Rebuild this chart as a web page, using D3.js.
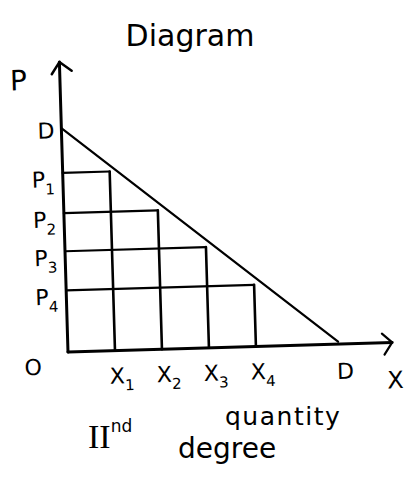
<!DOCTYPE html>
<html>
<head>
<meta charset="utf-8">
<script src="https://cdn.jsdelivr.net/npm/d3@7"></script>
<style>
  html, body { margin: 0; padding: 0; background: #fff; }
  svg { display: block; }
  text { font-family: "DejaVu Sans", sans-serif; fill: #000; }
</style>
</head>
<body>
<svg id="chart" width="413" height="483"></svg>
<script>
// Quantities demanded at each price step, and the demand intercepts
const quantityLabels = ["1", "2", "3", "4"];
const quantities = [1, 2, 3, 4];
const priceLabels = ["1", "2", "3", "4"];
const prices = [8.0, 6.2, 4.5, 2.75];
const demandIntercepts = { price: 10, quantity: 5.75 };
const axisMax = { quantity: 6.9, price: 12.95 };

const svg = d3.select("#chart");
const origin = { x: 68, y: 352 };

// Price / quantity scales (offsets from the origin)
const x = d3.scaleLinear().domain([0, 6]).range([0, 282]);
const y = d3.scaleLinear().domain([0, 10]).range([0, -224]);

// Slightly tilted frame, as sketched by hand
const frame = svg.append("g")
  .attr("transform", `translate(${origin.x},${origin.y}) rotate(-1.7)`);

const ink = "#000";

// Axes
frame.append("line")
  .attr("x1", x(0)).attr("y1", y(0))
  .attr("x2", x(0)).attr("y2", y(axisMax.price))
  .attr("stroke", ink).attr("stroke-width", 3).attr("stroke-linecap", "round");
frame.append("line")
  .attr("x1", x(0)).attr("y1", y(0))
  .attr("x2", x(axisMax.quantity)).attr("y2", y(0))
  .attr("stroke", ink).attr("stroke-width", 3).attr("stroke-linecap", "round");

// Arrowheads
const yTop = y(axisMax.price), xEnd = x(axisMax.quantity);
frame.append("path")
  .attr("d", `M${x(0) - 8},${yTop + 12} L${x(0)},${yTop} L${x(0) + 12},${yTop + 9}`)
  .attr("fill", "none").attr("stroke", ink).attr("stroke-width", 2.5)
  .attr("stroke-linecap", "round").attr("stroke-linejoin", "round");
frame.append("path")
  .attr("d", `M${xEnd - 10},${-9} L${xEnd},${0} L${xEnd - 8},${12}`)
  .attr("fill", "none").attr("stroke", ink).attr("stroke-width", 2.2)
  .attr("stroke-linecap", "round").attr("stroke-linejoin", "round");

// Demand line D–D
frame.append("line")
  .attr("x1", x(0)).attr("y1", y(demandIntercepts.price))
  .attr("x2", x(demandIntercepts.quantity)).attr("y2", y(0.1))
  .attr("stroke", ink).attr("stroke-width", 2.2).attr("stroke-linecap", "round");

// Price steps: horizontal to the quantity, then down to the axis
const steps = quantities.map((q, i) => ({ q, p: prices[i] }));
frame.selectAll("line.h").data(steps).join("line").attr("class", "h")
  .attr("x1", x(0)).attr("y1", d => y(d.p))
  .attr("x2", d => x(d.q)).attr("y2", d => y(d.p))
  .attr("stroke", ink).attr("stroke-width", 2.2).attr("stroke-linecap", "round");
frame.selectAll("line.v").data(steps).join("line").attr("class", "v")
  .attr("x1", d => x(d.q)).attr("y1", d => y(d.p))
  .attr("x2", d => x(d.q)).attr("y2", y(0))
  .attr("stroke", ink).attr("stroke-width", 2.6).attr("stroke-linecap", "round");

// Labels
const lab = frame.append("g");
function subLabel(base, sub, px, py, size, subSize) {
  const t = lab.append("text").attr("x", px).attr("y", py)
    .attr("font-size", size);
  t.append("tspan").text(base);
  t.append("tspan").attr("dy", size * 0.32).attr("font-size", subSize).text(sub);
  return t;
}

// Price labels on the left
steps.forEach((d, i) => {
  subLabel("P", priceLabels[i], -31, y(d.p) + 14, 22, 15);
});
lab.append("text").attr("x", -24).attr("y", y(demandIntercepts.price) + 10)
  .attr("font-size", 22).text("D");
lab.append("text").attr("x", -50).attr("y", y(axisMax.price) + 27)
  .attr("font-size", 28).text("P");
lab.append("text").attr("x", -44).attr("y", 22)
  .attr("font-size", 22).text("O");

// Quantity labels under the axis
steps.forEach((d, i) => {
  subLabel("X", quantityLabels[i], x(d.q) - 6, 33, 22, 15);
});
lab.append("text").attr("x", x(demandIntercepts.quantity) - 2).attr("y", 35)
  .attr("font-size", 22).text("D");
lab.append("text").attr("x", xEnd - 6).attr("y", 46)
  .attr("font-size", 24).text("X");

// Axis caption, title and note
svg.append("text").attr("x", 225).attr("y", 425)
  .attr("font-size", 25).attr("letter-spacing", 1.5).text("quantity");

svg.append("text").attr("x", 190).attr("y", 46).attr("text-anchor", "middle")
  .attr("font-size", 30).text("Diagram");

const note = svg.append("text").attr("x", 88).attr("y", 448);
note.append("tspan").attr("font-family", "Liberation Serif, serif")
  .attr("font-size", 34).text("II");
note.append("tspan").attr("dy", -16).attr("font-size", 17).text("nd");
note.append("tspan").attr("x", 178).attr("dy", 26).attr("font-size", 28).text("degree");
</script>
</body>
</html>
